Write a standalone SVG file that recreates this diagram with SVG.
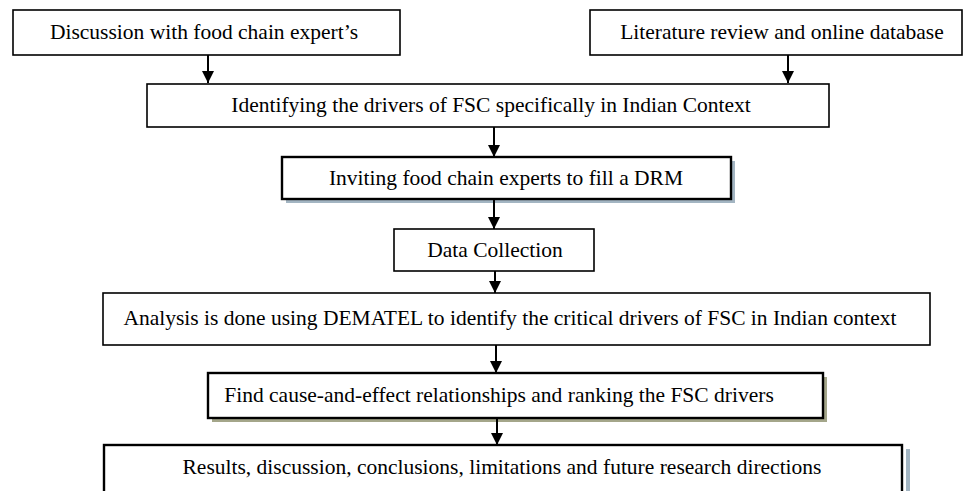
<svg xmlns="http://www.w3.org/2000/svg" width="973" height="491" viewBox="0 0 973 491">
<style>
.b{fill:#fff;stroke:#000;stroke-width:1.6}
.bt{fill:#fff;stroke:#000;stroke-width:2.4}
.t{font-family:"Liberation Serif","Times New Roman",serif;font-size:21.5px;fill:#000;text-anchor:middle}
.c{stroke:#000;stroke-width:2;fill:none}
</style>
<defs>
<marker id="ah" markerWidth="12" markerHeight="12" refX="12" refY="6" orient="auto" markerUnits="userSpaceOnUse" viewBox="0 0 12 12">
<path d="M0,0 L12,6 L0,12 Z" fill="#000"/>
</marker>
</defs>
<rect width="973" height="491" fill="#fff"/>
<g id="n1"><rect class="b" x="13" y="10" width="387" height="45"/><text class="t" x="204" y="39">Discussion with food chain expert’s</text></g>
<g id="n2"><rect class="b" x="590" y="10" width="372" height="45"/><text class="t" x="782" y="39">Literature review and online database</text></g>
<g id="n3"><rect class="b" x="147" y="84" width="682" height="43"/><text class="t" x="491" y="112">Identifying the drivers of FSC specifically in Indian Context</text></g>
<g id="n4"><rect x="286" y="161" width="449" height="42" fill="#a3b5c2"/><rect class="bt" x="282" y="157" width="449" height="42"/><text class="t" x="506" y="185">Inviting food chain experts to fill a DRM</text></g>
<g id="n5"><rect class="b" x="394" y="229" width="200" height="42"/><text class="t" x="495" y="257">Data Collection</text></g>
<g id="n6"><rect class="b" x="103" y="293" width="827" height="52"/><text class="t" x="510" y="325">Analysis is done using DEMATEL to identify the critical drivers of FSC in Indian context</text></g>
<g id="n7"><rect x="212" y="377" width="615" height="45" fill="#a4a68a"/><rect class="bt" x="208" y="373" width="615" height="45"/><text class="t" x="499" y="402">Find cause-and-effect relationships and ranking the FSC drivers</text></g>
<g id="n8"><rect x="906" y="449" width="4" height="50" fill="#a3b5c2"/><rect class="bt" x="104" y="445" width="798" height="60"/><text class="t" x="502" y="474">Results, discussion, conclusions, limitations and future research directions</text></g>
<g id="connectors">
<line class="c" x1="208" y1="55" x2="208" y2="83" marker-end="url(#ah)"/>
<line class="c" x1="788" y1="55" x2="788" y2="83" marker-end="url(#ah)"/>
<line class="c" x1="494" y1="127" x2="494" y2="157" marker-end="url(#ah)"/>
<line class="c" x1="494" y1="199" x2="494" y2="229" marker-end="url(#ah)"/>
<line class="c" x1="495" y1="271" x2="495" y2="293" marker-end="url(#ah)"/>
<line class="c" x1="496" y1="345" x2="496" y2="373" marker-end="url(#ah)"/>
<line class="c" x1="497" y1="418" x2="497" y2="445" marker-end="url(#ah)"/>
</g>
</svg>
